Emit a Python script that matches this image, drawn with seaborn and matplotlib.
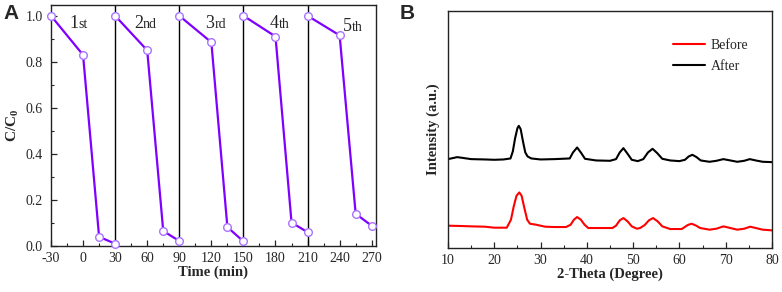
import numpy as np
import pandas as pd
import matplotlib
matplotlib.use("Agg")
import matplotlib.pyplot as plt
import seaborn as sns
from matplotlib.ticker import MultipleLocator

# ---------------- Data ----------------
# Panel A: photocatalytic cycles
cycle_names = ["1st", "2nd", "3rd", "4th", "5th"]
cycle1_t = [-30, 0, 15, 30]
cycle1_c = [1.00, 0.83, 0.04, 0.01]
cycle2_t = [30, 60, 75, 90]
cycle2_c = [1.00, 0.85, 0.065, 0.022]
cycle3_t = [90, 120, 135, 150]
cycle3_c = [1.00, 0.885, 0.082, 0.02]
cycle4_t = [150, 180, 195, 210]
cycle4_c = [1.00, 0.91, 0.102, 0.06]
cycle5_t = [210, 240, 255, 270]
cycle5_c = [1.00, 0.915, 0.14, 0.088]
cycle_bounds = [30, 90, 150, 210]
x_ticks_a = [-30, 0, 30, 60, 90, 120, 150, 180, 210, 240, 270]

# Panel B: XRD patterns (arbitrary units)
after_theta = [10, 12, 15, 18, 20, 22, 23.5, 24.0, 24.5, 25.0, 25.3, 25.7, 26.2, 26.7, 27.2, 28,
               30, 33, 36.3, 37.0, 37.9, 38.8, 39.6, 42, 45, 46.3, 47.1, 47.9, 48.8, 49.7, 51,
               52.2, 53.2, 54.2, 55.2, 56.3, 58, 60, 61.2, 62.0, 62.8, 63.7, 64.6, 66.5, 68, 69.5,
               71, 72.5, 74, 75.2, 76.5, 78, 80]
after_int = [267, 273, 267, 266, 265, 266, 269, 290, 330, 360, 367, 357, 320, 287, 275, 269,
             266, 267, 269, 287, 302, 285, 268, 263, 262, 267, 287, 300, 283, 265, 261,
             267, 287, 298, 285, 268, 263, 261, 265, 275, 280, 273, 263, 259, 262, 267,
             263, 259, 262, 267, 263, 259, 258]
before_theta = [10, 13, 15, 18, 20, 22.7, 23.6, 24.2, 24.8, 25.4, 25.9, 26.5, 27.1, 27.7, 29,
                31, 33, 35.5, 36.5, 37.2, 37.9, 38.7, 39.5, 40.3, 43, 45.5, 46.3, 47.1, 47.9,
                48.8, 49.7, 50.8, 51.5, 52.5, 53.4, 54.3, 55.3, 56.3, 58, 60.5, 61.8, 62.6,
                63.5, 64.5, 66.5, 68, 69.5, 71, 72.5, 74, 75.3, 76.5, 78, 80]
before_int = [67, 66, 65, 64, 61, 61, 85, 125, 157, 167, 157, 120, 85, 73, 70,
              64, 63, 63, 70, 85, 93, 85, 70, 60, 60, 60, 67, 83, 90,
              80, 65, 58, 60, 69, 83, 90, 80, 65, 57, 57, 69, 73,
              68, 60, 55, 58, 65, 60, 55, 58, 64, 60, 55, 53]

# ---------------- Style ----------------
sns.set_theme(style="ticks")
plt.rcParams["font.family"] = ["Liberation Serif", "DejaVu Serif"]
plt.rcParams["mathtext.fontset"] = "custom"
plt.rcParams["mathtext.rm"] = "Liberation Serif"
plt.rcParams["mathtext.bf"] = "Liberation Serif:bold"
plt.rcParams["axes.linewidth"] = 1.0
plt.rcParams["axes.edgecolor"] = "#222222"

line_col = "#7F00FF"
mk_edge = "#A873FF"

fig = plt.figure(figsize=(7.82, 2.92), dpi=100)
axA = fig.add_axes([0.0652, 0.1575, 0.4156, 0.8255])
axB = fig.add_axes([0.5729, 0.1507, 0.4143, 0.8116])

# ---------------- Panel A ----------------
cyc_t = [cycle1_t, cycle2_t, cycle3_t, cycle4_t, cycle5_t]
cyc_c = [cycle1_c, cycle2_c, cycle3_c, cycle4_c, cycle5_c]
rows = []
for name, ts, cs in zip(cycle_names, cyc_t, cyc_c):
    for t, c in zip(ts, cs):
        rows.append({"cycle": name, "t": t, "c": c})
dfA = pd.DataFrame(rows)
sns.lineplot(data=dfA, x="t", y="c", units="cycle", estimator=None, color=line_col,
             lw=1.6, marker="o", markersize=5.5, markerfacecolor="white",
             markeredgecolor=mk_edge, markeredgewidth=1.0, ax=axA, sort=False,
             clip_on=False, zorder=3)
for b in cycle_bounds:
    axA.axvline(b, color="black", lw=1.0, zorder=2)

axA.set_xlim(-30, 274)
axA.set_ylim(0, 1.047)
axA.set_xticks(x_ticks_a)
axA.set_xticklabels([str(v) for v in x_ticks_a])
axA.xaxis.set_minor_locator(MultipleLocator(15))
axA.set_yticks([0.0, 0.2, 0.4, 0.6, 0.8, 1.0])
axA.yaxis.set_minor_locator(MultipleLocator(0.1))
axA.tick_params(which="both", direction="in", top=False, right=False, labelsize=10)
axA.tick_params(axis="x", which="major", pad=4)
axA.tick_params(axis="y", which="major", pad=6)
axA.tick_params(which="major", length=4, width=0.9)
axA.tick_params(which="minor", length=2.5, width=0.8)
axA.set_xlabel("Time (min)", fontsize=10.5, fontweight="bold", labelpad=1)
axA.set_ylabel(r"$\mathbf{C/C_0}$", fontsize=11, labelpad=3)
for sp in axA.spines.values():
    sp.set_visible(True)

label_x = [-4, 56, 123, 183, 251]
label_y = [0.948, 0.945, 0.945, 0.948, 0.935]
for name, lx, ly in zip(cycle_names, label_x, label_y):
    axA.text(lx, ly, name[0], fontsize=13, ha="right", va="baseline")
    axA.text(lx, ly, name[1:], fontsize=10, ha="left", va="baseline")

# ---------------- Panel B ----------------
dfB = pd.concat([
    pd.DataFrame({"theta": before_theta, "I": before_int, "sample": "Before"}),
    pd.DataFrame({"theta": after_theta, "I": after_int, "sample": "After"}),
])
sns.lineplot(data=dfB, x="theta", y="I", hue="sample", estimator=None, sort=True,
             palette={"Before": "#FF0000", "After": "#000000"}, lw=1.5, ax=axB)
axB.set_xlim(10, 80)
axB.set_ylim(0, 712)
axB.set_xticks([10, 20, 30, 40, 50, 60, 70, 80])
axB.xaxis.set_minor_locator(MultipleLocator(5))
axB.set_yticks([])
axB.tick_params(which="both", direction="in", top=False, right=False, labelsize=10, pad=4)
axB.tick_params(which="major", length=4, width=0.9)
axB.tick_params(which="minor", length=2.5, width=0.8)
axB.set_xlabel("2-Theta (Degree)", fontsize=10.5, fontweight="bold", labelpad=1)
axB.set_ylabel("Intensity (a.u.)", fontsize=10.5, fontweight="bold", labelpad=6)
for sp in axB.spines.values():
    sp.set_visible(True)
leg = axB.legend(loc="upper right", bbox_to_anchor=(0.945, 0.905), frameon=False,
                 fontsize=10, handlelength=2.3, handletextpad=0.45, labelspacing=0.55,
                 borderaxespad=0)

# Panel letters
fig.text(0.004, 0.985, "A", fontsize=15, fontweight="bold", family="Liberation Sans",
         ha="left", va="top")
fig.text(0.511, 0.985, "B", fontsize=15, fontweight="bold", family="Liberation Sans",
         ha="left", va="top")

fig.savefig("out.png", dpi=100)
